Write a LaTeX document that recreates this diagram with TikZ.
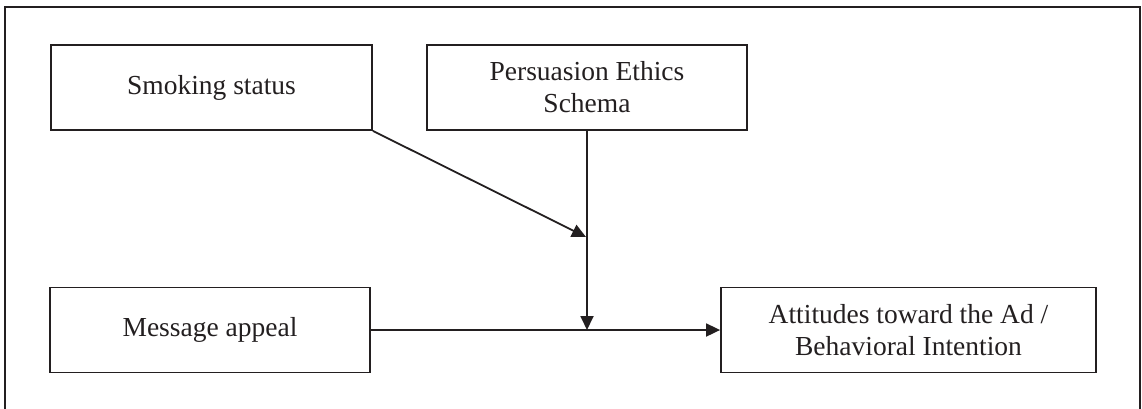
\documentclass[tikz,border=0pt]{standalone}
\usepackage{fontspec}
\setmainfont{Liberation Serif}
\usetikzlibrary{arrows.meta}
\definecolor{ink}{HTML}{231F20}
\begin{document}
\begin{tikzpicture}[x=1pt,y=-1pt,
  box/.style={draw=ink,line width=1.8pt,text=ink,align=center,inner sep=0pt,
    minimum height=85pt,font=\fontsize{27.5}{32}\selectfont},
  conn/.style={draw=ink,line width=1.8pt},
  arr/.style={conn,-{Triangle[length=14pt,width=13pt]}}]
\useasboundingbox (0,0) rectangle (1142,408);
\draw[conn] (5,410) -- (5,7) -- (1140,7) -- (1140,410);
\node[box,minimum width=321pt] (ss) at (211.5,87.5) {Smoking status};
\node[box,minimum width=320pt] (pe) at (587,87.5) {Persuasion Ethics\\Schema};
\node[box,minimum width=320pt] (ma) at (210,330) {Message appeal};
\node[box,minimum width=375pt] (at) at (908.5,330) {Attitudes toward the Ad /\\Behavioral Intention};
\coordinate (j) at (pe.south |- ma.east);
\coordinate (m) at (586,237);
\draw[arr] (pe.south) -- (j);
\draw[arr] (ss.south east) -- (m);
\draw[arr] (ma.east) -- (at.west);
\end{tikzpicture}
\end{document}
